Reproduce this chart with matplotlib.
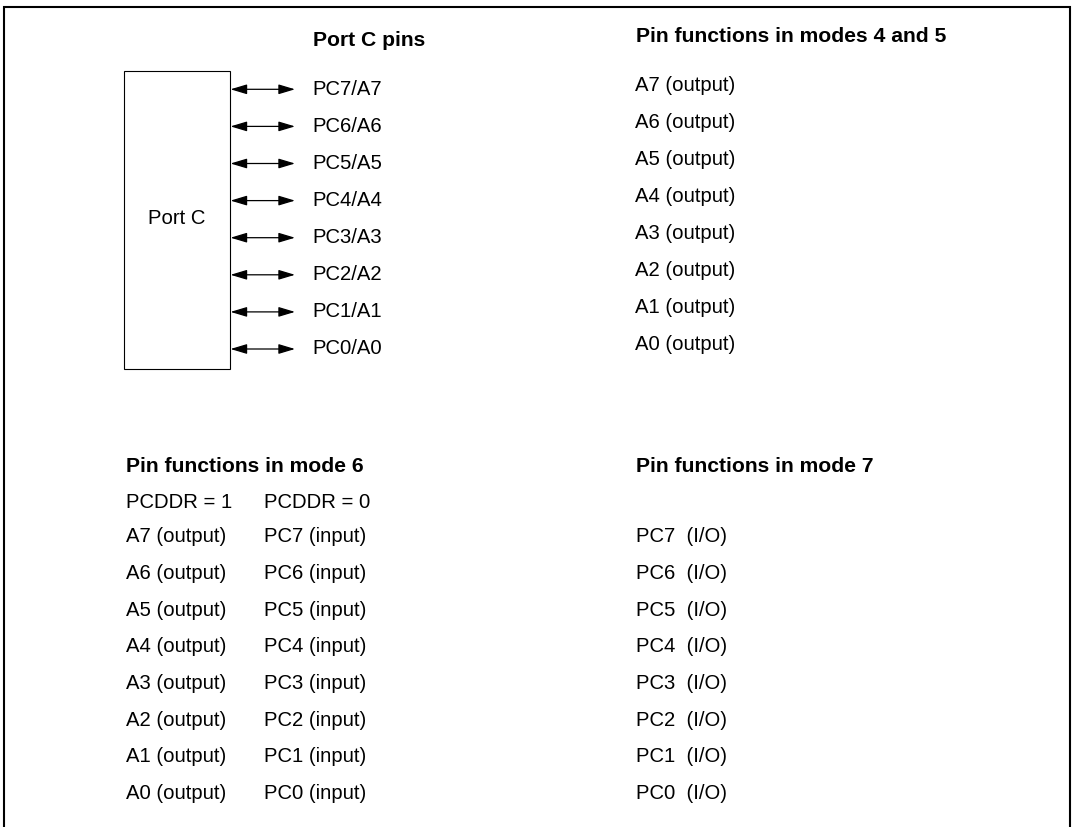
import matplotlib
matplotlib.use("Agg")
import matplotlib.pyplot as plt

# pin data
pins = ["PC7", "PC6", "PC5", "PC4", "PC3", "PC2", "PC1", "PC0"]
addr = ["A7", "A6", "A5", "A4", "A3", "A2", "A1", "A0"]

title_pins = "Port C pins"
title_m45 = "Pin functions in modes 4 and 5"
title_m6 = "Pin functions in mode 6"
title_m7 = "Pin functions in mode 7"
ddr_labels = ["PCDDR = 1", "PCDDR = 0"]

pin_labels = [p + "/" + a for p, a in zip(pins, addr)]
m45_labels = [a + " (output)" for a in addr]
m6_out = [a + " (output)" for a in addr]
m6_in = [p + " (input)" for p in pins]
m7_labels = [p + "  (I/O)" for p in pins]

plt.rcParams["font.family"] = ["Liberation Sans", "DejaVu Sans"]

fig = plt.figure(figsize=(10.73, 8.27), dpi=100)
ax = fig.add_axes([0, 0, 1, 1])
ax.set_xlim(0, 1073)
ax.set_ylim(827, 0)
ax.axis("off")

fs = 14.6
fsb = 15.2

# outer frame (open at the bottom)
ax.plot([4, 4, 1070, 1070], [827, 6.5, 6.5, 827], color="black", lw=1.5,
        solid_joinstyle="miter")

# port box
ax.add_patch(plt.Rectangle((124, 70.5), 106, 298.5, fill=False, lw=0.8, ec="black"))
ax.text(177, 218, "Port C", fontsize=fs, ha="center", va="center")

ax.text(313, 40, title_pins, fontsize=fsb, fontweight="bold", ha="left", va="center")
ax.text(636, 36, title_m45, fontsize=fsb, fontweight="bold", ha="left", va="center")

row0 = 89.3
step = 37.1
for i, lab in enumerate(pin_labels):
    y = row0 + i * step
    ax.annotate("", xy=(295, y), xytext=(230.5, y),
                arrowprops=dict(arrowstyle="<|-|>,head_length=1.0,head_width=0.3",
                                mutation_scale=10, lw=0.9, color="black",
                                shrinkA=0, shrinkB=0))
    ax.text(312, y, lab, fontsize=fs, ha="left", va="center")
    ax.text(635, y - 4, m45_labels[i], fontsize=fs, ha="left", va="center")

# lower part
ax.text(126, 466, title_m6, fontsize=fsb, fontweight="bold", ha="left", va="center")
ax.text(636, 466, title_m7, fontsize=fsb, fontweight="bold", ha="left", va="center")
ax.text(126, 502, ddr_labels[0], fontsize=fs, ha="left", va="center")
ax.text(264, 502, ddr_labels[1], fontsize=fs, ha="left", va="center")

row1 = 537
step1 = 36.6
for i in range(len(pins)):
    y = row1 + i * step1
    ax.text(126, y, m6_out[i], fontsize=fs, ha="left", va="center")
    ax.text(264, y, m6_in[i], fontsize=fs, ha="left", va="center")
    ax.text(636, y, m7_labels[i], fontsize=fs, ha="left", va="center")

fig.savefig("out.png", dpi=100)
